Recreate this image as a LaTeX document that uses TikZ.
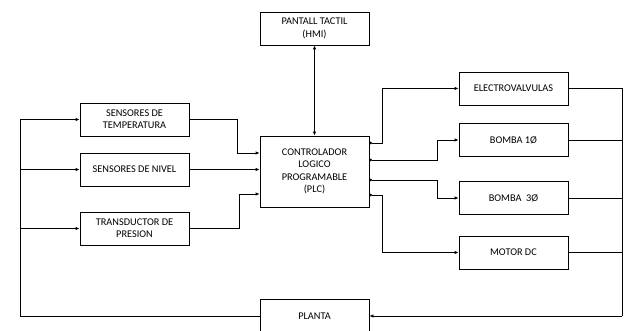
\documentclass[tikz,border=0pt]{standalone}
\usepackage{fontspec}
\setmainfont{Carlito}
\usetikzlibrary{arrows.meta}
\begin{document}
\begin{tikzpicture}[x=1pt,y=-1pt,
  blk/.style={draw, line width=0.8pt, minimum width=109pt, minimum height=33pt,
    inner sep=0pt, align=center, font=\fontsize{10.3}{12.3}\selectfont},
  wire/.style={line width=0.8pt},
  arr/.style={wire, -{Latex[length=4pt,width=3.5pt]}},
  darr/.style={wire, {Latex[length=4pt,width=3.5pt]}-{Latex[length=4pt,width=3.5pt]}},
  outw/.style={wire, {Circle[length=2.5pt]}-{Latex[length=4pt,width=3.5pt]}}]
\useasboundingbox (0,0) rectangle (625,331);

% blocks
\node[blk] (hmi)   at (314.5,28.5)  {PANTALL TACTIL\\(HMI)};
\node[blk, minimum height=71pt] (plc) at (314.5,171.5) {CONTROLADOR\\LOGICO\\PROGRAMABLE\\(PLC)};
\node[blk] (temp)  at (134.5,119.5) {SENSORES DE\\TEMPERATURA};
\node[blk] (nivel) at (134.5,169.5) {SENSORES DE NIVEL};
\node[blk] (pres)  at (134.5,228.5) {TRANSDUCTOR DE\\PRESION};
\node[blk] (ev)    at (513.5,88.5)  {ELECTROVALVULAS};
\node[blk] (b1)    at (513.5,140)   {BOMBA 1Ø};
\node[blk] (b3)    at (513.5,198)   {BOMBA\ \ 3Ø};
\node[blk] (mdc)   at (513.5,252.5) {MOTOR DC};
\node[blk] (planta) at (314.5,316) {PLANTA};

% HMI <-> PLC
\draw[darr] (hmi.south) -- (plc.north);

% sensor inputs to PLC
\draw[arr] (temp.east) -| (237,153) -- (plc.west |- 0,153);
\draw[arr] (nivel.east) -- (plc.west |- nivel.east);
\draw[arr] (pres.east) -| (239,194) -- (plc.west |- 0,194);

% PLC outputs to actuators
\draw[outw] (plc.east |- 0,143) -| (382,88.5) -- (ev.west);
\draw[outw] (plc.east |- 0,160) -| (437,140) -- (b1.west);
\draw[outw] (plc.east |- 0,180) -| (437,198) -- (b3.west);
\draw[outw] (plc.east |- 0,195) -| (382,252.5) -- (mdc.west);

% actuators to plant
\coordinate (rbus) at (622,316);
\draw[wire] (ev.east) -- (622,88.5) -- (rbus);
\draw[wire] (b1.east) -- (622,140);
\draw[wire] (b3.east) -- (622,198);
\draw[wire] (mdc.east) -- (622,252.5);
\draw[arr] (rbus) -- (planta.east);

% plant feedback to sensors
\coordinate (lbus) at (20,316);
\draw[wire] (planta.west) -- (lbus) -- (20,119.5);
\draw[arr] (20,119.5) -- (temp.west);
\draw[arr] (20,169.5) -- (nivel.west);
\draw[arr] (20,228.5) -- (pres.west);
\end{tikzpicture}
\end{document}
